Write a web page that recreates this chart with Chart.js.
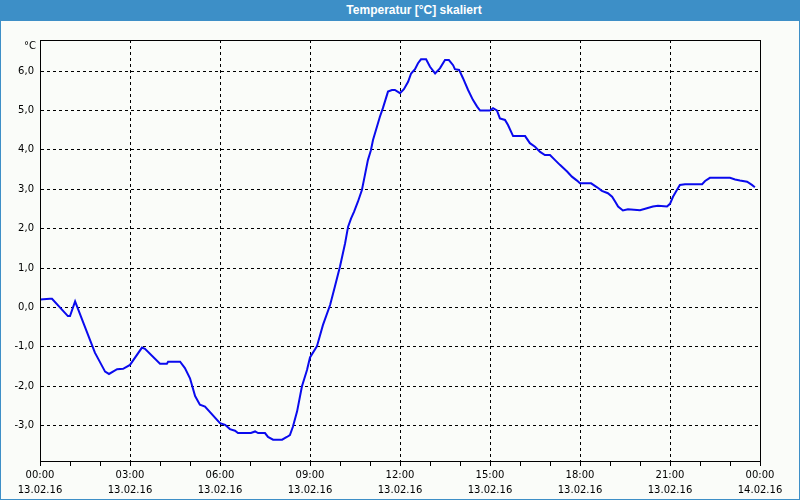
<!DOCTYPE html>
<html>
<head>
<meta charset="utf-8">
<script src="https://cdn.jsdelivr.net/npm/chart.js@4"></script>
<style>
    html, body { margin: 0; padding: 0; background: #fafcf9; }
    #wrap { position: relative; width: 800px; height: 500px; overflow: hidden; }
    #chart { position: absolute; left: 0; top: 0; }
    #titlebar {
        position: absolute; left: 0; top: 0; width: 800px; height: 21px;
        background: #3d8fc7; color: #fff; text-align: center;
        font: bold 12px "Liberation Sans", sans-serif; line-height: 21px;
        box-sizing: border-box; padding-left: 28px;
    }
    #frame {
        position: absolute; left: 0; top: 0; width: 800px; height: 500px;
        border: 1px solid #3d8fc7; box-sizing: border-box; pointer-events: none;
    }
</style>
</head>
<body>
<div id="wrap">
    <canvas id="chart" width="800" height="500"></canvas>
    <div id="titlebar">Temperatur [°C] skaliert</div>
    <div id="frame"></div>
</div>
<script>
    // Data (hours since 13.02.16 00:00, °C)
    const hours = [
        0.00, 0.33, 0.40, 0.93, 1.00, 1.17, 1.43, 1.83, 2.17, 2.30,
        2.57, 2.77, 3.00, 3.40, 3.50, 4.00, 4.23, 4.27, 4.67, 4.83,
        5.00, 5.17, 5.33, 5.50, 6.00, 6.17, 6.33, 6.50, 6.60, 7.03,
        7.17, 7.27, 7.50, 7.60, 7.77, 8.07, 8.23, 8.33, 8.43, 8.57,
        8.73, 8.90, 9.00, 9.23, 9.43, 9.67, 9.83, 10.00, 10.17, 10.27,
        10.37, 10.47, 10.60, 10.73, 10.83, 10.93, 11.03, 11.10, 11.33, 11.43,
        11.60, 11.73, 11.83, 12.00, 12.13, 12.27, 12.37, 12.50, 12.60, 12.70,
        12.87, 13.00, 13.17, 13.33, 13.50, 13.63, 13.77, 13.83, 13.97, 14.10,
        14.27, 14.43, 14.57, 14.67, 15.00, 15.10, 15.23, 15.33, 15.50, 15.60,
        15.77, 16.17, 16.33, 16.50, 16.67, 16.83, 17.00, 17.17, 17.33, 17.57,
        17.73, 17.90, 18.00, 18.37, 18.57, 18.73, 18.93, 19.07, 19.17, 19.27,
        19.43, 19.60, 20.00, 20.23, 20.43, 20.60, 20.90, 21.00, 21.10, 21.23,
        21.33, 21.50, 22.07, 22.17, 22.33, 23.00, 23.17, 23.33, 23.57, 23.73,
        23.83
    ];
    const temps = [
        0.20, 0.22, 0.22, -0.22, -0.22, 0.15, -0.36, -1.15, -1.63, -1.69,
        -1.57, -1.56, -1.46, -1.02, -1.05, -1.43, -1.43, -1.38, -1.38, -1.54,
        -1.80, -2.25, -2.47, -2.52, -2.94, -2.98, -3.09, -3.13, -3.19, -3.19,
        -3.15, -3.19, -3.19, -3.29, -3.36, -3.36, -3.29, -3.24, -3.03, -2.64,
        -2.01, -1.59, -1.27, -0.99, -0.45, 0.06, 0.53, 1.04, 1.63, 2.05,
        2.26, 2.43, 2.69, 2.98, 3.36, 3.74, 3.99, 4.25, 4.84, 5.06,
        5.48, 5.52, 5.52, 5.44, 5.54, 5.73, 5.94, 6.05, 6.20, 6.30,
        6.30, 6.11, 5.94, 6.07, 6.28, 6.28, 6.15, 6.05, 6.03, 5.82,
        5.52, 5.27, 5.10, 5.00, 5.00, 5.06, 5.00, 4.80, 4.76, 4.63,
        4.35, 4.35, 4.17, 4.08, 3.95, 3.87, 3.87, 3.74, 3.62, 3.45,
        3.32, 3.22, 3.15, 3.15, 3.05, 2.96, 2.90, 2.81, 2.69, 2.56,
        2.46, 2.49, 2.47, 2.52, 2.56, 2.58, 2.56, 2.63, 2.81, 2.98,
        3.11, 3.13, 3.13, 3.21, 3.29, 3.29, 3.25, 3.22, 3.19, 3.11,
        3.05
    ];
    const yTicks = [-3, -2, -1, 0, 1, 2, 3, 4, 5, 6];
    const xTickTimes = ['00:00', '03:00', '06:00', '09:00', '12:00', '15:00', '18:00', '21:00', '00:00'];
    const xTickDates = ['13.02.16', '13.02.16', '13.02.16', '13.02.16', '13.02.16', '13.02.16', '13.02.16', '13.02.16', '14.02.16'];
    const unitLabel = '°C';

    const FONT = { family: '"DejaVu Sans", sans-serif', size: 10 };

    // frame around the plot area + unit label above the y axis
    const boxPlugin = {
        id: 'box',
        afterDraw(chart) {
            const { ctx, chartArea: a } = chart;
            ctx.save();
            ctx.strokeStyle = '#000';
            ctx.lineWidth = 1;
            ctx.strokeRect(Math.round(a.left) + 0.5, Math.round(a.top) + 0.5,
                Math.round(a.right - a.left), Math.round(a.bottom - a.top));
            ctx.fillStyle = '#000';
            ctx.font = '10px "DejaVu Sans", sans-serif';
            ctx.textAlign = 'right';
            ctx.textBaseline = 'middle';
            ctx.fillText(unitLabel, a.left - 4, a.top + 6);
            ctx.restore();
        }
    };

    new Chart(document.getElementById('chart'), {
        type: 'line',
        data: {
            datasets: [{
                data: hours.map((h, i) => ({ x: h, y: temps[i] })),
                borderColor: '#0a0aee',
                borderWidth: 2,
                pointRadius: 0,
                tension: 0,
                fill: false
            }]
        },
        options: {
            responsive: false,
            animation: false,
            layout: { padding: { left: 0, top: 40, right: 40, bottom: 0 } },
            plugins: { legend: { display: false }, tooltip: { enabled: false }, title: { display: false } },
            scales: {
                x: {
                    type: 'linear',
                    min: 0,
                    max: 24,
                    afterFit: s => { s.height = 39; },
                    afterBuildTicks: s => {
                        const t = [];
                        for (let h = 0; h <= 24; h++) t.push({ value: h });
                        s.ticks = t;
                    },
                    border: { display: true, color: '#000', width: 1, dash: [3, 3] },
                    grid: {
                        color: c => (c.tick && c.tick.value % 3 === 0 && c.tick.value > 0 && c.tick.value < 24) ? '#000' : 'rgba(0,0,0,0)',
                        tickColor: '#000',
                        tickLength: 5,
                        tickBorderDash: [],
                        drawTicks: true
                    },
                    ticks: {
                        autoSkip: false,
                        maxRotation: 0,
                        padding: 2,
                        color: '#000',
                        font: { ...FONT, lineHeight: 1.5 },
                        callback: v => v % 3 === 0 ? [xTickTimes[v / 3], xTickDates[v / 3]] : ''
                    }
                },
                y: {
                    min: -3.9,
                    max: 6.79,
                    afterFit: s => { s.width = 40; },
                    afterBuildTicks: s => { s.ticks = yTicks.map(v => ({ value: v })); },
                    border: { display: true, color: '#000', width: 1, dash: [3, 3] },
                    grid: { color: '#000', drawTicks: false },
                    ticks: {
                        padding: 6,
                        color: '#000',
                        font: FONT,
                        callback: v => v.toFixed(1).replace('.', ',')
                    }
                }
            }
        },
        plugins: [boxPlugin]
    });
</script>
</body>
</html>
